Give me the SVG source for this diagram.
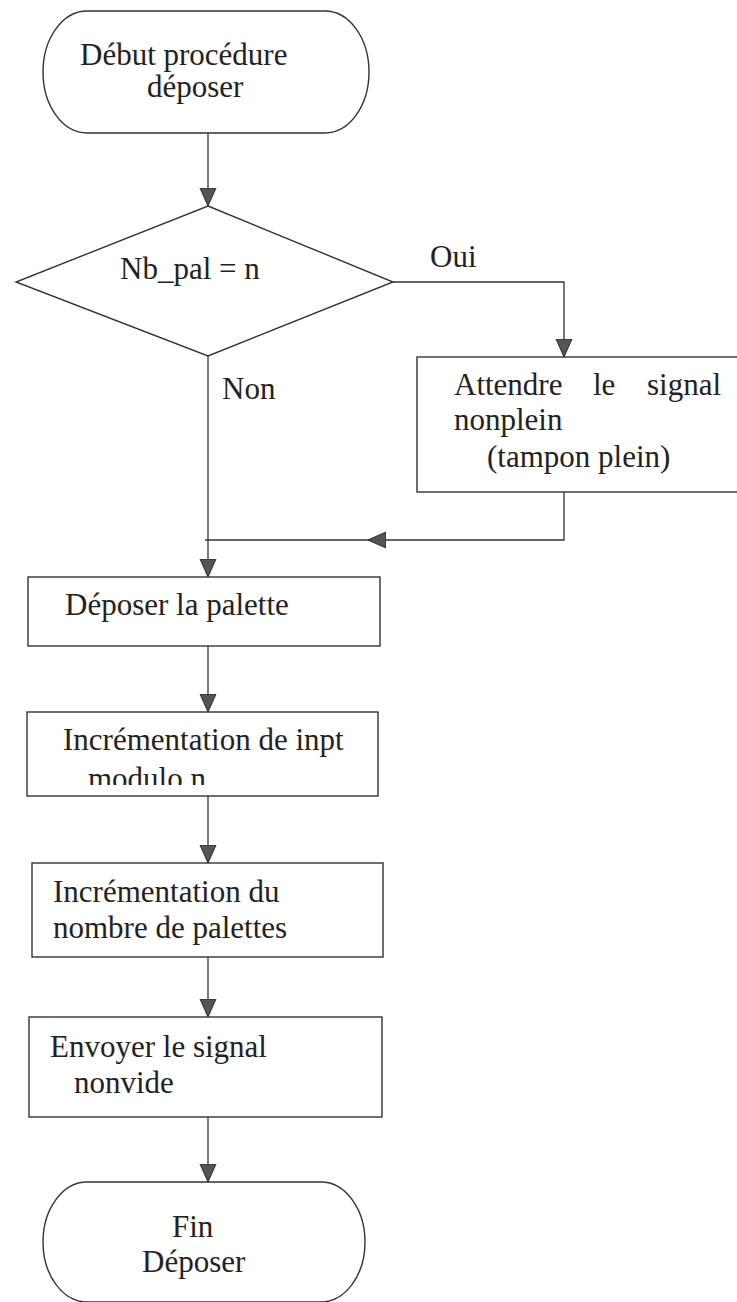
<svg xmlns="http://www.w3.org/2000/svg" width="737" height="1302" viewBox="0 0 737 1302">
  <style>
    .shape { fill: none; stroke: #333; stroke-width: 1.4; }
    .wire { fill: none; stroke: #333; stroke-width: 1.3; }
    .lbl { font-family: "Liberation Serif", "Times New Roman", serif; font-size: 31px; fill: #222; }
  </style>
  <defs>
    <marker id="arrow" viewBox="0 0 18 18" refX="18" refY="9" markerWidth="18" markerHeight="18" markerUnits="userSpaceOnUse" orient="auto">
      <path d="M0,1 L18,9 L0,17 Z" fill="#555" stroke="#2a2a2a" stroke-width="1"/>
    </marker>
    <clipPath id="clip-modulo">
      <rect x="0" y="700" width="400" height="85"/>
    </clipPath>
  </defs>
  <rect width="737" height="1302" fill="#fff"/>

  <!-- connectors -->
  <g id="connectors">
    <path class="wire" d="M208,133 V206" marker-end="url(#arrow)"/>
    <path class="wire" d="M393,282 H564 V357" marker-end="url(#arrow)"/>
    <path class="wire" d="M208,356 V577" marker-end="url(#arrow)"/>
    <path class="wire" d="M564,492 V540 H368" marker-end="url(#arrow)"/>
    <path class="wire" d="M370,540 H205"/>
    <path class="wire" d="M208,646 V712" marker-end="url(#arrow)"/>
    <path class="wire" d="M208,796 V863" marker-end="url(#arrow)"/>
    <path class="wire" d="M208,957 V1017" marker-end="url(#arrow)"/>
    <path class="wire" d="M208,1117 V1182" marker-end="url(#arrow)"/>
    <text class="lbl" x="430" y="267">Oui</text>
    <text class="lbl" x="222" y="399">Non</text>
  </g>

  <!-- start terminal -->
  <g id="start">
    <rect class="shape" x="43" y="11" width="326" height="122" rx="44" ry="61"/>
    <text class="lbl" x="80" y="65">Début procédure</text>
    <text class="lbl" x="147" y="97">déposer</text>
  </g>

  <!-- decision -->
  <g id="test-full">
    <path class="shape" d="M208,206 L393,282 L208,356 L16,282 Z"/>
    <text class="lbl" x="120" y="279">Nb_pal = n</text>
  </g>

  <!-- wait box (runs off the right edge) -->
  <g id="wait">
    <rect class="shape" x="417" y="357" width="330" height="135"/>
    <text class="lbl" x="454" y="395">Attendre</text>
    <text class="lbl" x="593" y="395">le</text>
    <text class="lbl" x="647" y="395">signal</text>
    <text class="lbl" x="454" y="430">nonplein</text>
    <text class="lbl" x="487" y="467">(tampon plein)</text>
  </g>

  <!-- put pallet -->
  <g id="deposit">
    <rect class="shape" x="28" y="577" width="352" height="69"/>
    <text class="lbl" x="65" y="615">Déposer la palette</text>
  </g>

  <!-- increment inpt -->
  <g id="inc-inpt">
    <rect class="shape" x="27" y="712" width="351" height="84"/>
    <text class="lbl" x="63" y="750">Incrémentation de inpt</text>
    <text class="lbl" x="88" y="789" clip-path="url(#clip-modulo)">modulo n</text>
  </g>

  <!-- increment count -->
  <g id="inc-count">
    <rect class="shape" x="32" y="863" width="351" height="94"/>
    <text class="lbl" x="53" y="902">Incrémentation du</text>
    <text class="lbl" x="53" y="938">nombre de palettes</text>
  </g>

  <!-- send signal -->
  <g id="send">
    <rect class="shape" x="29" y="1017" width="353" height="100"/>
    <text class="lbl" x="50" y="1057">Envoyer le signal</text>
    <text class="lbl" x="74" y="1093">nonvide</text>
  </g>

  <!-- end terminal -->
  <g id="end">
    <rect class="shape" x="43" y="1182" width="322" height="120" rx="44" ry="60"/>
    <text class="lbl" x="172" y="1237">Fin</text>
    <text class="lbl" x="142" y="1272">Déposer</text>
  </g>
</svg>
